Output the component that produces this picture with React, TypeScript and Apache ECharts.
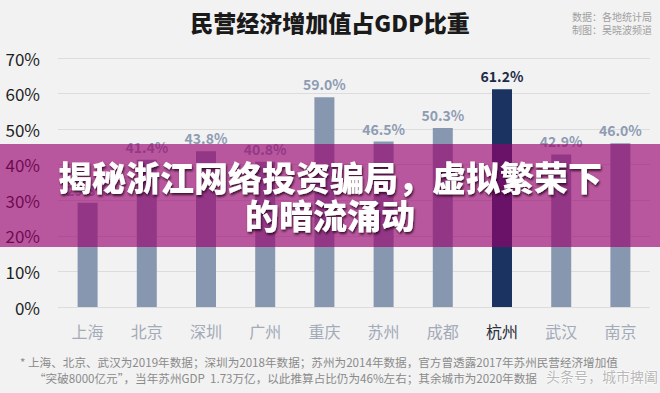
import React, { useEffect, useRef } from "react";
import * as echarts from "echarts";

const categories = ["上海", "北京", "深圳", "广州", "重庆", "苏州", "成都", "杭州", "武汉", "南京"];
const values = [29.3, 41.4, 43.8, 40.8, 59.0, 46.5, 50.3, 61.2, 42.9, 46.0];
const highlight = "杭州";
const yTicks = [0, 10, 20, 30, 40, 50, 60, 70];

const titleText = "民营经济增加值占GDP比重";
const sourceLines = ["数据：各地统计局", "制图：吴晓波频道"];
const noteLines = [
  "* 上海、北京、武汉为2019年数据；深圳为2018年数据；苏州为2014年数据，官方曾透露2017年苏州民营经济增加值",
  "“突破8000亿元”，当年苏州GDP  1.73万亿，以此推算占比仍为46%左右；其余城市为2020年数据",
];
const bannerLines = ["揭秘浙江网络投资骗局，虚拟繁荣下", "的暗流涌动"];
const watermark = "头条号，城市捭阖";

const FONT = "'Noto Sans CJK SC', 'Noto Sans', sans-serif";

export default function App() {
  const ref = useRef<HTMLDivElement>(null);
  useEffect(() => {
    if (!ref.current) return;
    const chart = echarts.init(ref.current, null, { renderer: "svg" });
    chart.setOption({
      animation: false,
      backgroundColor: "#f2f2f2",
      textStyle: { fontFamily: FONT },
      grid: { left: 58, right: 10, top: 58, bottom: 86, containLabel: false },
      xAxis: {
        type: "category",
        data: categories,
        axisLine: { show: false },
        axisTick: { show: false },
        axisLabel: {
          interval: 0,
          margin: 16,
          fontSize: 16,
          color: "#a3aab8",
          fontFamily: FONT,
          formatter: (v: string) => (v === highlight ? `{h|${v}}` : v),
          rich: { h: { color: "#2a2f3a", fontSize: 16, fontFamily: FONT } },
        },
      },
      yAxis: {
        type: "value",
        min: 0,
        max: 70,
        interval: 10,
        axisLine: { show: false },
        axisTick: { show: false },
        splitLine: { lineStyle: { color: "#dcdcdc", width: 1 } },
        axisLabel: {
          margin: 18,
          fontSize: 17,
          color: "#1e1e1e",
          fontFamily: FONT,
          formatter: (v: number) => (yTicks.includes(v) ? `${v}%` : ""),
        },
      },
      series: [
        {
          type: "bar",
          barWidth: 20,
          data: values.map((v, i) => ({
            value: v,
            itemStyle: { color: categories[i] === highlight ? "#1b3360" : "#8797b0" },
            label: {
              color: categories[i] === highlight ? "#1d2b48" : "#8e9cb3",
            },
          })),
          label: {
            show: true,
            position: "top",
            distance: 6,
            fontSize: 14,
            fontWeight: "bold",
            fontFamily: FONT,
            formatter: (p: any) => `${p.value.toFixed(1)}%`,
          },
        },
      ],
      graphic: [
        {
          type: "text",
          left: "center",
          top: 10,
          style: { text: titleText, fontSize: 23, fontWeight: 900, fill: "#1a1a1a", fontFamily: FONT },
        },
        {
          type: "text",
          x: 572,
          y: 10,
          style: {
            text: sourceLines.join("\n"),
            fontSize: 10,
            lineHeight: 13,
            fill: "#a0a0a0",
            fontFamily: FONT,
          },
        },
        {
          type: "text",
          x: 20,
          y: 356,
          style: { text: noteLines[0], fontSize: 11.6, fill: "#8a8a8a", fontFamily: FONT },
        },
        {
          type: "text",
          x: 34,
          y: 372,
          style: { text: noteLines[1], fontSize: 11.6, fill: "#8a8a8a", fontFamily: FONT },
        },
        {
          type: "text",
          x: 546,
          y: 369,
          z: 100,
          style: {
            text: watermark,
            fontSize: 14,
            fill: "#b8b8b8",
            stroke: "#ffffff",
            lineWidth: 1,
            fontFamily: FONT,
          },
        },
        {
          type: "rect",
          z: 100,
          shape: { x: 0, y: 144, width: 660, height: 103 },
          style: { fill: "rgba(151,0,110,0.64)" },
        },
        {
          type: "text",
          z: 101,
          x: 330,
          y: 157,
          style: {
            text: bannerLines.join("\n"),
            align: "center",
            fontSize: 34,
            lineHeight: 38,
            fontWeight: 900,
            fill: "#ffffff",
            fontFamily: FONT,
            textShadowColor: "rgba(40,0,30,0.8)",
            textShadowBlur: 2,
            textShadowOffsetX: 1,
            textShadowOffsetY: 2,
          },
        },
      ],
    });
    return () => chart.dispose();
  }, []);
  return (
    <div
      ref={ref}
      style={{ width: 660, height: 393, position: "fixed", left: 0, top: 0 }}
    />
  );
}
